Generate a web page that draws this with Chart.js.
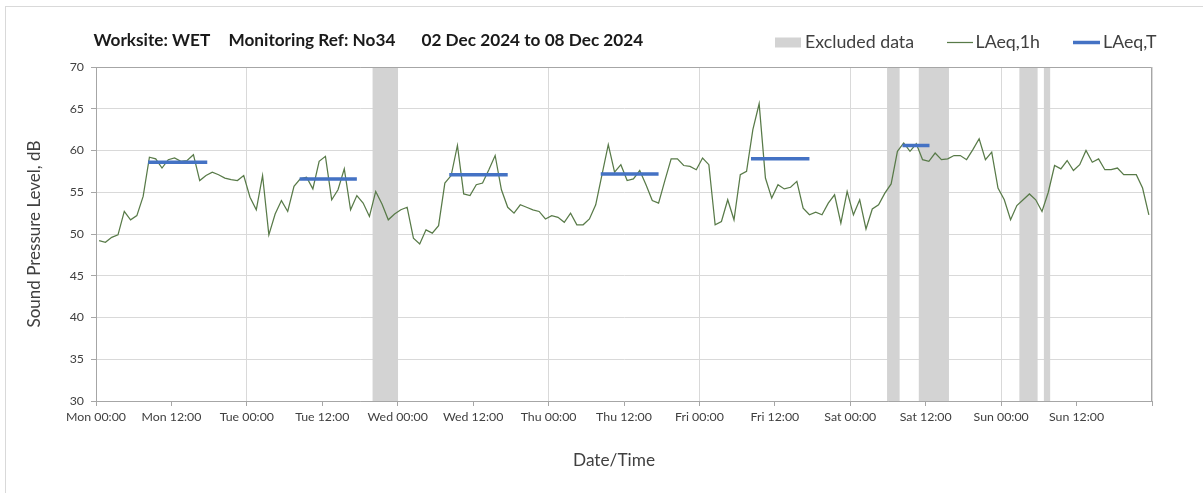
<!DOCTYPE html>
<html>
<head>
<meta charset="utf-8">
<script src="https://cdn.jsdelivr.net/npm/chart.js@4.4.1/dist/chart.umd.min.js"></script>
<style>
  html, body { margin: 0; padding: 0; background: #ffffff; }
  canvas { display: block; }
</style>
</head>
<body>
<canvas id="c" width="1203" height="493"></canvas>
<script>
// ---------------- DATA ----------------
// Hourly LAeq,1h values, Mon 02 Dec 2024 00:00 -> Sun 08 Dec 2024 23:00
const hourlyValues = [
  49.2, 49.0, 49.6, 49.9, 52.7, 51.7, 52.2, 54.5, 59.2, 59.0, 57.9, 58.9,
  59.1, 58.7, 58.8, 59.5, 56.4, 57.0, 57.4, 57.1, 56.7, 56.5, 56.4, 57.0,
  54.4, 52.9, 57.0, 49.9, 52.4, 54.0, 52.7, 55.7, 56.6, 56.8, 55.4, 58.7,
  59.3, 54.1, 55.3, 57.8, 52.9, 54.6, 53.7, 52.1, 55.1, 53.6, 51.7, 52.4,
  52.9, 53.2, 49.5, 48.8, 50.5, 50.1, 51.0, 56.1, 57.0, 60.6, 54.8, 54.6,
  55.9, 56.1, 57.7, 59.4, 55.3, 53.2, 52.5, 53.5, 53.2, 52.9, 52.7, 51.8,
  52.2, 52.0, 51.4, 52.5, 51.1, 51.1, 51.8, 53.5, 57.1, 60.7, 57.4, 58.3,
  56.4, 56.6, 57.6, 55.9, 54.0, 53.7, 56.4, 59.0, 59.0, 58.2, 58.1, 57.7,
  59.1, 58.3, 51.1, 51.5, 54.1, 51.7, 57.1, 57.5, 62.5, 65.6, 56.7, 54.3,
  55.9, 55.4, 55.6, 56.3, 53.1, 52.3, 52.6, 52.3, 53.7, 54.7, 51.3, 55.1,
  52.3, 54.1, 50.6, 53.0, 53.5, 54.9, 56.0, 59.9, 60.9, 59.9, 60.8, 58.9,
  58.7, 59.7, 58.9, 59.0, 59.4, 59.4, 58.9, 60.1, 61.4, 58.9, 59.8, 55.5,
  54.1, 51.7, 53.4, 54.1, 54.8, 54.1, 52.7, 55.0, 58.2, 57.8, 58.8, 57.6,
  58.3, 60.0, 58.6, 59.0, 57.7, 57.7, 57.9, 57.1, 57.1, 57.1, 55.5, 52.3
];

// LAeq,T period lines (hours from Mon 00:00)
const periodStart = [8.3, 32.4, 56.2, 80.3, 104.2, 128.3];
const periodEnd   = [17.7, 41.5, 65.5, 89.5, 113.5, 132.6];
const periodValue = [58.6, 56.6, 57.1, 57.2, 59.0, 60.6];

// Excluded data periods (hours from Mon 00:00)
const excludedStart = [44.0, 125.85, 130.9, 146.9, 150.8];
const excludedEnd   = [48.05, 127.85, 135.7, 149.8, 151.8];

// X tick labels every 12 hours (0..168)
const tickLabels = [
  'Mon 00:00', 'Mon 12:00', 'Tue 00:00', 'Tue 12:00', 'Wed 00:00', 'Wed 12:00',
  'Thu 00:00', 'Thu 12:00', 'Fri 00:00', 'Fri 12:00', 'Sat 00:00', 'Sat 12:00',
  'Sun 00:00', 'Sun 12:00', ''
];

const titleParts = ['Worksite: WET', 'Monitoring Ref: No34', '02 Dec 2024 to 08 Dec 2024'];
const legendLabels = ['Excluded data', 'LAeq,1h', 'LAeq,T'];
const yTitle = 'Sound Pressure Level, dB';
const xTitle = 'Date/Time';

// ---------------- STYLE ----------------
const FONT = 'Lato, "Open Sans", "DejaVu Sans", sans-serif';
const GREEN = '#587A48';
const BLUE = '#4472C4';
const BAND = '#D3D3D3';
const GRID = '#D9D9D9';
const AXIS = '#A6A6A6';
const TEXT = '#404040';

const mctx = document.createElement('canvas').getContext('2d');
function fitSize(text, weight, target) {
  mctx.font = weight + ' 100px ' + FONT;
  return 100 * target / mctx.measureText(text).width;
}
const tickSize = fitSize('Mon 00:00', 'normal', 60);
const titleSize = (fitSize(titleParts[0], 'bold', 119) + fitSize(titleParts[1], 'bold', 171) + fitSize(titleParts[2], 'bold', 212)) / 3;
const legendSize = (fitSize(legendLabels[0], 'normal', 107) + fitSize(legendLabels[1], 'normal', 63) + fitSize(legendLabels[2], 'normal', 56)) / 3;
const yTitleSize = fitSize(yTitle, 'normal', 187);
const xTitleSize = fitSize(xTitle, 'normal', 82);

// ---------------- DATASETS ----------------
const lineData = hourlyValues.map((v, i) => ({ x: i + 0.5, y: v }));
const periodData = [];
periodStart.forEach((s, i) => {
  periodData.push({ x: s, y: periodValue[i] });
  periodData.push({ x: periodEnd[i], y: periodValue[i] });
  periodData.push({ x: periodEnd[i], y: null });
});

const decorPlugin = {
  id: 'decor',
  beforeDraw(chart) {
    const c = chart.ctx;
    c.save();
    c.fillStyle = '#ffffff';
    c.fillRect(0, 0, chart.width, chart.height);
    c.strokeStyle = '#D9D9D9';
    c.lineWidth = 1;
    c.strokeRect(5.5, 6.5, chart.width + 10, chart.height + 10);
    c.restore();
  },
  beforeDatasetsDraw(chart) {
    const c = chart.ctx, xs = chart.scales.x, ys = chart.scales.y;
    c.save();
    c.fillStyle = BAND;
    excludedStart.forEach((s, i) => {
      const x0 = xs.getPixelForValue(s), x1 = xs.getPixelForValue(excludedEnd[i]);
      const y0 = ys.getPixelForValue(70), y1 = ys.getPixelForValue(30);
      c.fillRect(x0, y0, x1 - x0, y1 - y0);
    });
    c.restore();
  },
  afterDraw(chart) {
    const c = chart.ctx, a = chart.chartArea;
    c.save();
    // plot border (top and right)
    c.strokeStyle = AXIS;
    c.lineWidth = 1;
    c.beginPath();
    c.moveTo(Math.round(a.left) + 0.5, Math.round(a.top) + 0.5);
    c.lineTo(Math.round(a.right) - 0.5, Math.round(a.top) + 0.5);
    c.lineTo(Math.round(a.right) - 0.5, Math.round(a.bottom));
    c.stroke();

    // title
    c.fillStyle = '#1A1A1A';
    c.textBaseline = 'middle';
    c.textAlign = 'left';
    c.font = 'bold ' + titleSize.toFixed(2) + 'px ' + FONT;
    c.fillText(titleParts[0], 93.5, 40.5);
    c.fillText(titleParts[1], 228.5, 40.5);
    c.fillText(titleParts[2], 421.5, 40.5);

    // legend
    c.font = legendSize.toFixed(2) + 'px ' + FONT;
    c.fillStyle = BAND;
    c.fillRect(775, 37.5, 26, 10);
    c.fillStyle = TEXT;
    c.fillText(legendLabels[0], 805, 42.5);
    c.strokeStyle = GREEN;
    c.lineWidth = 1.25;
    c.beginPath(); c.moveTo(947, 42.5); c.lineTo(973, 42.5); c.stroke();
    c.fillText(legendLabels[1], 975.5, 42.5);
    c.strokeStyle = BLUE;
    c.lineWidth = 3.5;
    c.beginPath(); c.moveTo(1073, 42.5); c.lineTo(1100, 42.5); c.stroke();
    c.fillText(legendLabels[2], 1103, 42.5);

    // axis titles
    c.fillStyle = TEXT;
    c.textAlign = 'center';
    c.font = xTitleSize.toFixed(2) + 'px ' + FONT;
    c.fillText(xTitle, 614, 460);
    c.translate(35, 234);
    c.rotate(-Math.PI / 2);
    c.font = yTitleSize.toFixed(2) + 'px ' + FONT;
    c.fillText(yTitle, 0, 0);
    c.restore();
  }
};

new Chart(document.getElementById('c'), {
  type: 'line',
  data: {
    datasets: [
      {
        label: legendLabels[2],
        data: periodData,
        borderColor: BLUE,
        borderWidth: 3.5,
        pointRadius: 0,
        spanGaps: false,
        tension: 0,
        order: 0
      },
      {
        label: legendLabels[1],
        data: lineData,
        borderColor: GREEN,
        borderWidth: 1.25,
        pointRadius: 0,
        tension: 0,
        order: 1
      }
    ]
  },
  options: {
    responsive: false,
    animation: false,
    events: [],
    parsing: true,
    layout: { padding: { left: 0, right: 51, top: 67, bottom: 0 } },
    plugins: {
      legend: { display: false },
      title: { display: false },
      tooltip: { enabled: false }
    },
    scales: {
      x: {
        type: 'linear',
        min: 0,
        max: 168,
        afterBuildTicks: (s) => { s.ticks = tickLabels.map((_, i) => ({ value: i * 12 })); },
        afterFit: (s) => { s.height = 92; },
        ticks: {
          autoSkip: false,
          maxRotation: 0,
          minRotation: 0,
          padding: 4,
          color: TEXT,
          font: { family: FONT, size: tickSize },
          callback: (v) => tickLabels[Math.round(v / 12)]
        },
        grid: {
          color: (ctx) => (ctx.tick && ctx.tick.value % 24 === 0) ? GRID : 'rgba(0,0,0,0)',
          tickColor: AXIS,
          tickLength: 5,
          lineWidth: 1
        },
        border: { color: AXIS, width: 1 }
      },
      y: {
        min: 30,
        max: 70,
        afterFit: (s) => { s.width = 96; },
        ticks: {
          stepSize: 5,
          padding: 7,
          color: TEXT,
          font: { family: FONT, size: tickSize }
        },
        grid: {
          color: GRID,
          tickColor: AXIS,
          tickLength: 5,
          lineWidth: 1
        },
        border: { color: AXIS, width: 1 }
      }
    }
  },
  plugins: [decorPlugin]
});
</script>
</body>
</html>
